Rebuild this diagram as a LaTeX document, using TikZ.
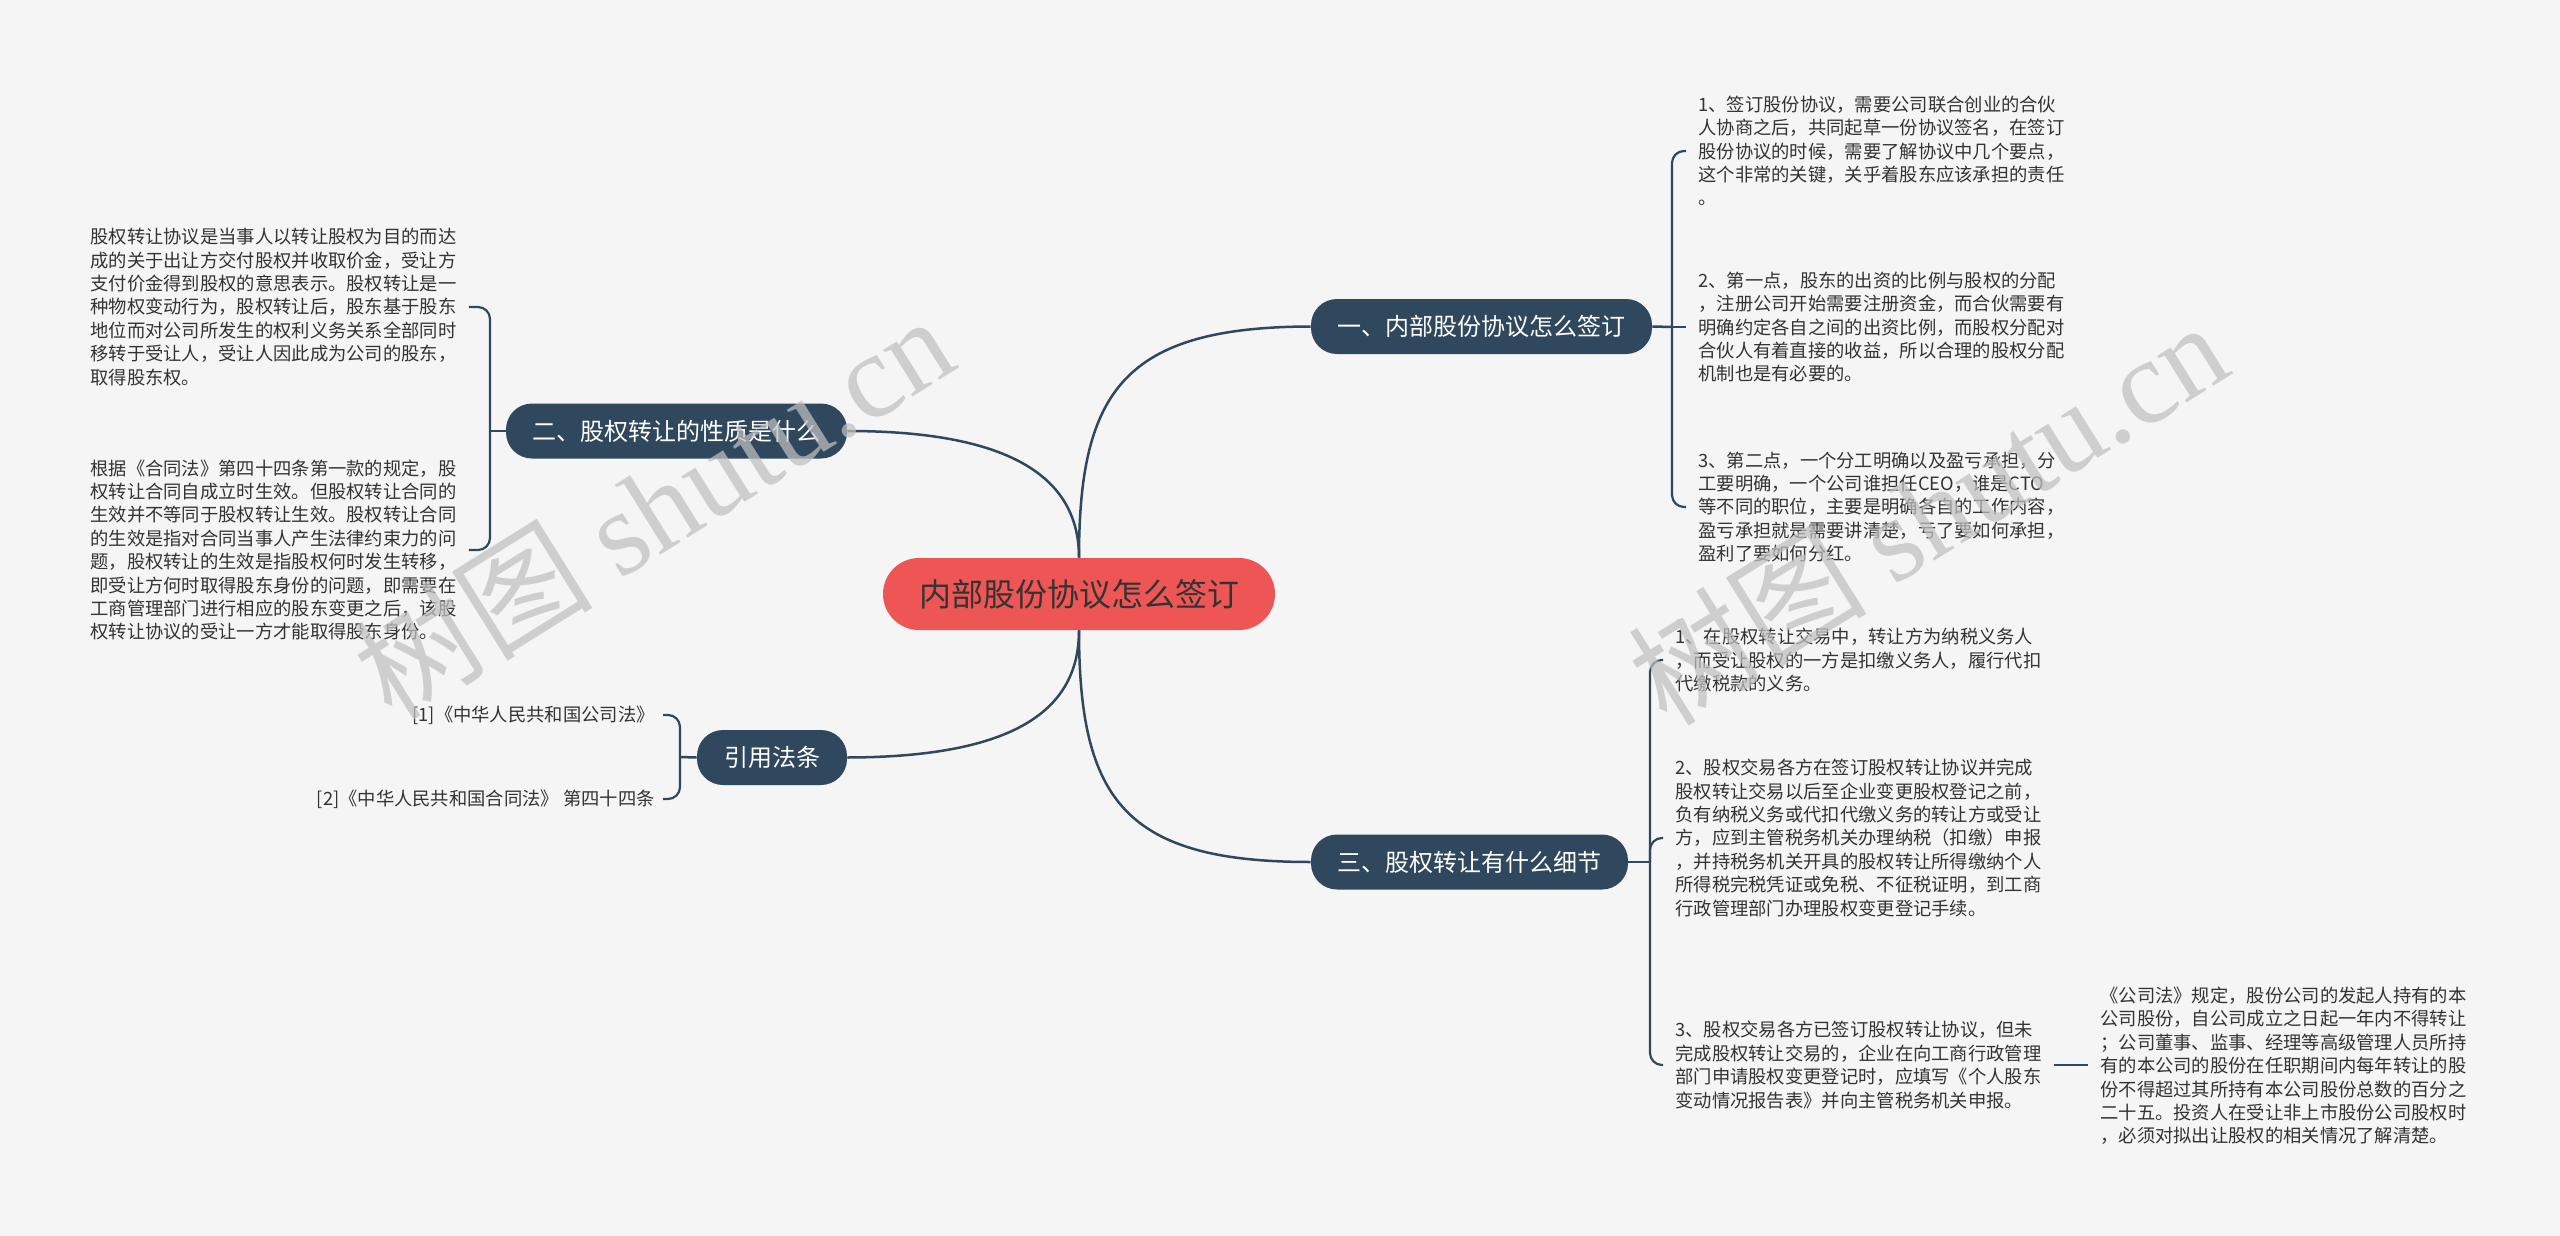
\documentclass[tikz,border=0pt]{standalone}
\usepackage{fontspec}
\setmainfont{Noto Sans CJK SC}
\newfontfamily\wmserif{Liberation Serif}
\definecolor{cbg}{RGB}{245,245,245}
\definecolor{cnavy}{RGB}{48,72,94}
\definecolor{cred}{RGB}{238,86,86}
\definecolor{ctext}{RGB}{51,51,51}
\definecolor{cwm}{RGB}{192,192,192}
\tikzset{
  centernode/.style={fill=cred, rounded corners=18pt, minimum width=196pt, minimum height=36pt,
    font=\fontsize{16}{19}\selectfont, text=ctext, inner sep=0pt},
  branchnode/.style={fill=cnavy, text=white, rounded corners=13pt, minimum height=27.5pt,
    font=\fontsize{12}{14}\selectfont, inner sep=0pt},
  leaf/.style={align=left, inner xsep=6pt, inner ysep=0pt, text=ctext,
    font=\fontsize{9.15}{11.7}\selectfont},
  refleaf/.style={align=right, inner xsep=4pt, inner ysep=0pt, text=ctext,
    font=\fontsize{9.15}{11.7}\selectfont},
  link/.style={draw=cnavy, line width=1.25pt},
  brace/.style={draw=cnavy, line width=1.1pt, rounded corners=6pt},
  watermark/.style={text=cwm, text opacity=0.72, rotate=32, font=\fontsize{60}{60}\selectfont, inner sep=0pt},
}
\begin{document}
\begin{tikzpicture}[x=0.5pt,y=-0.5pt]
\path[use as bounding box] (0,0) rectangle (2560,1236);
\fill[cbg] (0,0) rectangle (2560,1236);

% central and branch nodes
\node[centernode] (c) at (1079,594) {内部股份协议怎么签订};
\node[branchnode, minimum width=170.5pt] (b1) at (1481.5,326.5) {一、内部股份协议怎么签订};
\node[branchnode, minimum width=158.5pt] (b3) at (1469.5,862) {三、股权转让有什么细节};
\node[branchnode, minimum width=170.5pt] (b2) at (676.5,431) {二、股权转让的性质是什么};
\node[branchnode, minimum width=75pt] (b4) at (772,757.5) {引用法条};

% main connectors
\draw[link] (c.north) .. controls (1079,390) and (1125,327) .. (b1.west);
\draw[link] (c.north) .. controls (1079,480) and (1015,431) .. (b2.east);
\draw[link] (c.south) .. controls (1079,710) and (1015,757) .. (b4.east);
\draw[link] (c.south) .. controls (1079,800) and (1125,862) .. (b3.west);

% branch 1 leaves
\node[leaf, anchor=west] (i1a) at (1686,151) {1、签订股份协议，需要公司联合创业的合伙\\人协商之后，共同起草一份协议签名，在签订\\股份协议的时候，需要了解协议中几个要点，\\这个非常的关键，关乎着股东应该承担的责任\\。};
\node[leaf, anchor=west] (i1b) at (1686,327) {2、第一点，股东的出资的比例与股权的分配\\，注册公司开始需要注册资金，而合伙需要有\\明确约定各自之间的出资比例，而股权分配对\\合伙人有着直接的收益，所以合理的股权分配\\机制也是有必要的。};
\node[leaf, anchor=west] (i1c) at (1686,507) {3、第二点，一个分工明确以及盈亏承担，分\\工要明确，一个公司谁担任CEO，谁是CTO\\等不同的职位，主要是明确各自的工作内容，\\盈亏承担就是需要讲清楚，亏了要如何承担，\\盈利了要如何分红。};
\coordinate (j1) at (1672,327);
\draw[link] (b1.east) -- (j1);
\draw[brace] (j1) |- (i1a.west);
\draw[brace] (j1) -- (i1b.west);
\draw[brace] (j1) |- (i1c.west);

% branch 3 leaves
\node[leaf, anchor=west] (i3a) at (1663,660) {1、在股权转让交易中，转让方为纳税义务人\\，而受让股权的一方是扣缴义务人，履行代扣\\代缴税款的义务。};
\node[leaf, anchor=west] (i3b) at (1663,838) {2、股权交易各方在签订股权转让协议并完成\\股权转让交易以后至企业变更股权登记之前，\\负有纳税义务或代扣代缴义务的转让方或受让\\方，应到主管税务机关办理纳税（扣缴）申报\\，并持税务机关开具的股权转让所得缴纳个人\\所得税完税凭证或免税、不征税证明，到工商\\行政管理部门办理股权变更登记手续。};
\node[leaf, anchor=west] (i3c) at (1663,1065) {3、股权交易各方已签订股权转让协议，但未\\完成股权转让交易的，企业在向工商行政管理\\部门申请股权变更登记时，应填写《个人股东\\变动情况报告表》并向主管税务机关申报。};
\node[leaf, anchor=west] (i3d) at (2088,1066) {《公司法》规定，股份公司的发起人持有的本\\公司股份，自公司成立之日起一年内不得转让\\；公司董事、监事、经理等高级管理人员所持\\有的本公司的股份在任职期间内每年转让的股\\份不得超过其所持有本公司股份总数的百分之\\二十五。投资人在受让非上市股份公司股权时\\，必须对拟出让股权的相关情况了解清楚。};
\coordinate (j3) at (1650,862);
\draw[link] (b3.east) -- (j3);
\draw[brace] (j3) |- (i3a.west);
\draw[brace] (j3) |- (i3b.west);
\draw[brace] (j3) |- (i3c.west);
\draw[brace] (i3c.east) -- (i3c.east -| i3d.west);

% branch 2 leaves
\node[leaf, anchor=west] (l1) at (78,307) {股权转让协议是当事人以转让股权为目的而达\\成的关于出让方交付股权并收取价金，受让方\\支付价金得到股权的意思表示。股权转让是一\\种物权变动行为，股权转让后，股东基于股东\\地位而对公司所发生的权利义务关系全部同时\\移转于受让人，受让人因此成为公司的股东，\\取得股东权。};
\node[leaf, anchor=west] (l2) at (78,550) {根据《合同法》第四十四条第一款的规定，股\\权转让合同自成立时生效。但股权转让合同的\\生效并不等同于股权转让生效。股权转让合同\\的生效是指对合同当事人产生法律约束力的问\\题，股权转让的生效是指股权何时发生转移，\\即受让方何时取得股东身份的问题，即需要在\\工商管理部门进行相应的股东变更之后，该股\\权转让协议的受让一方才能取得股东身份。};
\coordinate (j2) at (490,431);
\draw[link] (b2.west) -- (j2);
\draw[brace] (j2) |- (l1.east);
\draw[brace] (j2) |- (l2.east);

% references
\node[refleaf, anchor=east] (r1) at (663,715) {[1]《中华人民共和国公司法》};
\node[refleaf, anchor=east] (r2) at (663,799) {[2]《中华人民共和国合同法》 第四十四条};
\coordinate (j4) at (680,757);
\draw[link] (b4.west) -- (j4);
\draw[brace] (j4) |- (r1.east);
\draw[brace] (j4) |- (r2.east);

% watermarks (drawn on top, semi-transparent)
\node[watermark] (wm1) at (653,506) {树图 {\wmserif shutu.cn}};
\node[watermark] (wm2) at (1927,512) {树图 {\wmserif shutu.cn}};
\end{tikzpicture}
\end{document}
